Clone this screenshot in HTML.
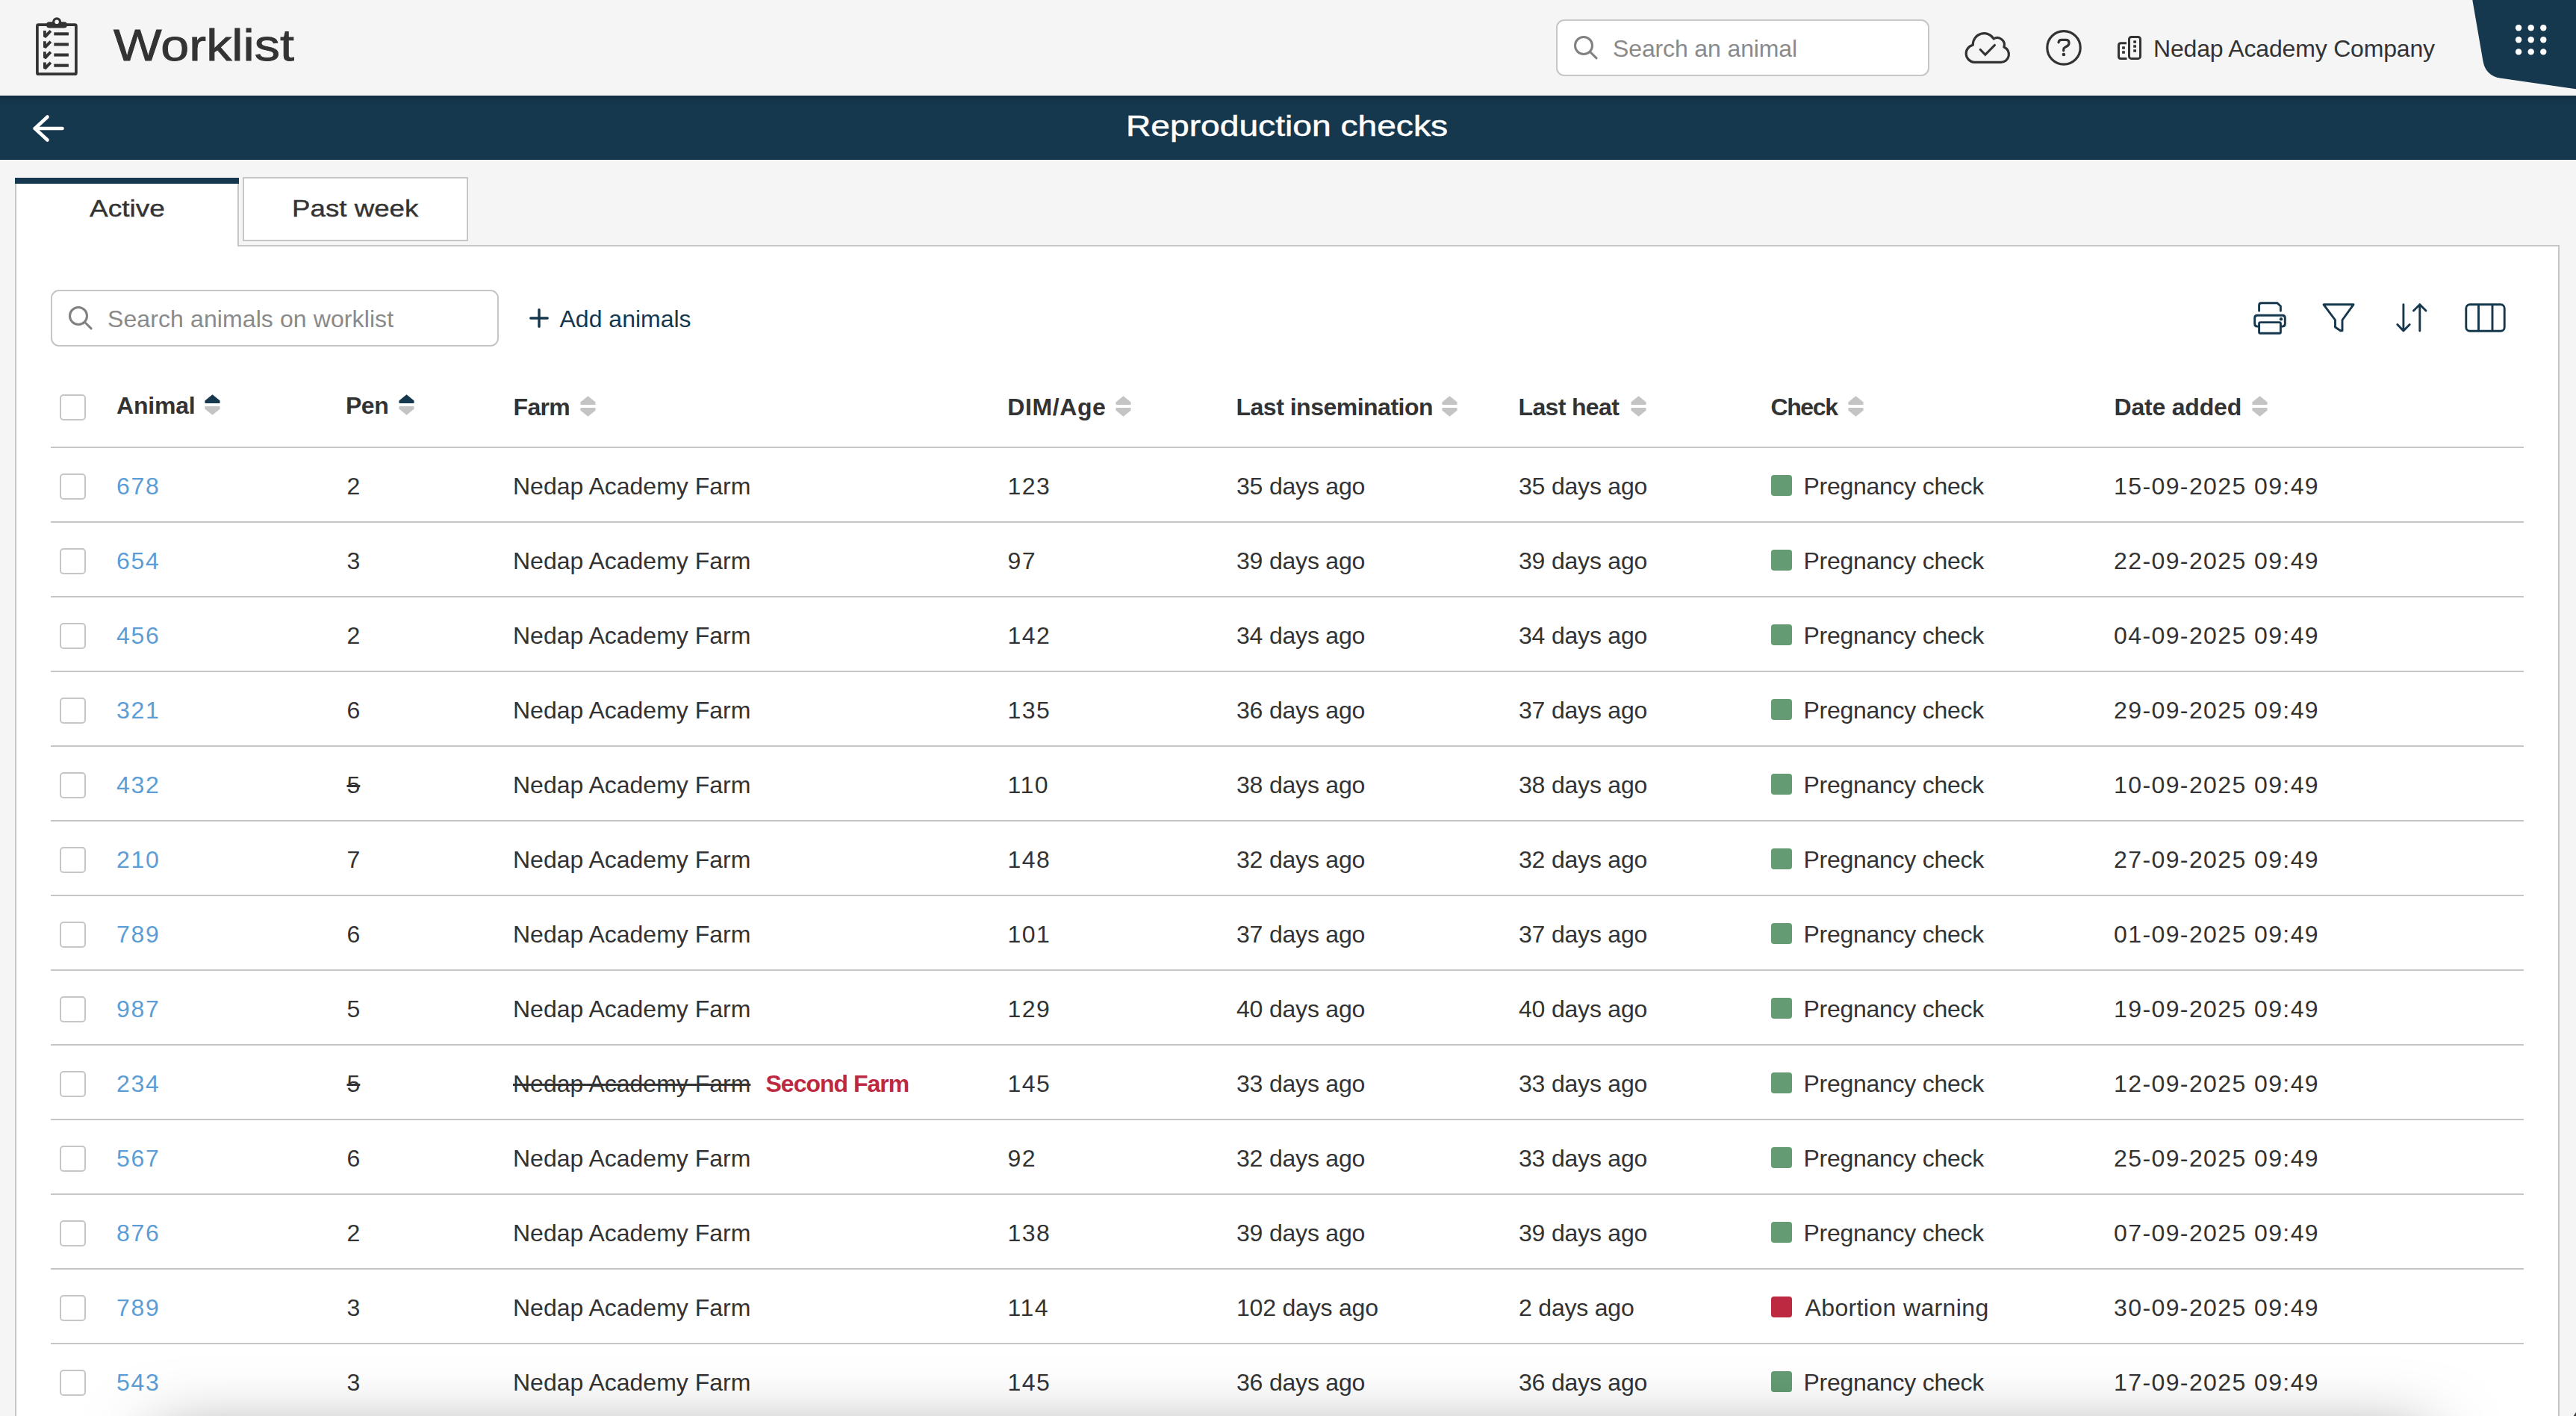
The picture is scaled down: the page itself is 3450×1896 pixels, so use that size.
<!DOCTYPE html><html lang="en"><head><meta charset="utf-8"><title>Worklist</title><style>
*{box-sizing:border-box;margin:0;padding:0}
html,body{width:3450px;height:1896px;overflow:hidden;background:#f5f5f5;font-family:"Liberation Sans", sans-serif;color:#333333;font-size:32px}
body{position:relative}
span,a{position:absolute;white-space:nowrap;line-height:1;transform-origin:0 50%;text-decoration:none}
div{position:absolute}
header,nav,main,section,.r{position:static;display:block}
#nav{left:0;top:128px;width:3450px;height:86px;background:linear-gradient(#112c40 0,#14344a 6px,#16384e 14px,#16384e 100%)}
#panel{left:20px;top:328px;width:3408px;height:1600px;background:#fff;border:2px solid #c6c6c6}
#tabA{left:20px;top:246px;width:300px;height:84px;background:#fff;border-left:2px solid #c6c6c6;border-right:2px solid #c6c6c6}
#tabAtop{left:20px;top:238px;width:300px;height:8px;background:#16384e}
#tabB{left:325px;top:237px;width:302px;height:86px;background:#fff;border:2px solid #c6c6c6}
.inp{background:#fff;border:2px solid #c6c6c6;border-radius:11px}
.cb{left:80px;width:36px;height:36px;border:2px solid #c6c6c6;border-radius:5px;background:#fff}
.hl{left:68px;width:3312px;height:2px;background:#c6c6c6}
.sq{left:2372px;width:28px;height:28px;border-radius:4px;background:#649b73}
svg{position:absolute;overflow:visible}
.s{text-decoration:line-through}
.b{font-weight:700}
</style></head><body>
<header>
<svg style="left:48px;top:24px" width="56" height="78" viewBox="0 0 56 78">
<rect x="1.9" y="9.2" width="52" height="66" rx="1.5" fill="none" stroke="#333333" stroke-width="3.7"/>
<rect x="14.1" y="5.3" width="27.8" height="8.1" rx="4" fill="#333333"/>
<circle cx="28.1" cy="5.3" r="4.4" fill="#f5f5f5" stroke="#333333" stroke-width="3.2"/>
<g fill="#333333"><path d="M10 17.1H13.8V20.8L18.6 16.1L21.2 18.8L13.4 27.0L10 25.3Z"/><path d="M10 31.2H13.8V34.9L18.6 30.2L21.2 32.9L13.4 41.1L10 39.4Z"/><path d="M10 45.3H13.8V49.0L18.6 44.3L21.2 47.0L13.4 55.2L10 53.5Z"/><path d="M10 59.4H13.8V63.1L18.6 58.4L21.2 61.1L13.4 69.3L10 67.6Z"/><rect x="24.3" y="19.3" width="19.6" height="4.1"/><rect x="24.3" y="33.4" width="19.6" height="4.1"/><rect x="24.3" y="47.5" width="19.6" height="4.1"/><rect x="24.3" y="61.6" width="19.6" height="4.1"/></g></svg>
<span style="left:151.5px;top:31.21px;font-size:60px;transform:scaleX(1.14);-webkit-text-stroke:0.9px #333333;">Worklist</span>
<div class="inp" style="left:2084px;top:26px;width:500px;height:76px"></div>
<svg style="left:2108px;top:48px" width="32" height="32" viewBox="0 0 32 32" fill="none" stroke="#808080" stroke-width="3" stroke-linecap="round"><circle cx="13" cy="13" r="11.5"/><path d="M21.3 21.3L30.1 29.9"/></svg>
<span style="left:2160px;top:48.66px;color:#8a8a8a;letter-spacing:-0.13px;">Search an animal</span>
<svg style="left:2632px;top:43px" width="60" height="42" viewBox="0 0 60 42" fill="none" stroke="#333333" stroke-width="3.2" stroke-linecap="round" stroke-linejoin="round">
<path d="M12.2 40.3 A11.7 11.7 0 0 1 10.3 17.2 A15.05 15.05 0 0 1 38.2 8.9 A9.4 9.4 0 0 1 51.9 19.9 A10.6 10.6 0 0 1 47.8 40.3 Z"/>
<path d="M20.3 23.5 L26.8 30.3 L39.4 17.5" stroke-linejoin="miter"/></svg>
<svg style="left:2740px;top:40px" width="48" height="48" viewBox="0 0 48 48" fill="none" stroke="#333333" stroke-width="3.2" stroke-linecap="round" stroke-linejoin="round"><circle cx="24" cy="23.9" r="22.2"/>
<path d="M17 16.8 Q17.4 13.4 21 13.4 H27 Q31 13.4 31 17.4 Q31 20.5 28 22 L25.6 23.3 Q23.7 24.3 23.7 26.3 V27.8"/><circle cx="23.9" cy="33" r="2.3" fill="#333333" stroke="none"/></svg>
<svg style="left:2836px;top:48px" width="32" height="32" viewBox="0 0 32 32" fill="none" stroke="#333333" stroke-width="3">
<rect x="15.5" y="1.4" width="15" height="29" rx="3"/><path d="M12 9.7 H4.5 Q1.5 9.7 1.5 12.7 V27.4 Q1.5 30.4 4.5 30.4 H12.5"/>
<g stroke="none" fill="#333333"><rect x="21.2" y="6.2" width="3.8" height="3.6" rx=".5"/><rect x="21.2" y="12.2" width="3.8" height="3.6" rx=".5"/><rect x="21.2" y="18.2" width="3.8" height="3.6" rx=".5"/><rect x="6.1" y="14.2" width="3.8" height="3.6" rx=".5"/><rect x="6.1" y="20.2" width="3.8" height="3.6" rx=".5"/></g></svg>
<span style="left:2884px;top:48.66px;letter-spacing:-0.18px;">Nedap Academy Company</span>
<svg style="left:3300px;top:0" width="150" height="125" viewBox="3300 0 150 125"><path d="M3311.3 0 L3325.5 82 Q3329 101 3348 104.6 L3450 119.3 V0 Z" fill="#16384e"/>
<g fill="#fff"><circle cx="3373.1" cy="37.2" r="4.2"/><circle cx="3389.7" cy="37.2" r="4.2"/><circle cx="3406.3" cy="37.2" r="4.2"/><circle cx="3373.1" cy="53.3" r="4.2"/><circle cx="3389.7" cy="53.3" r="4.2"/><circle cx="3406.3" cy="53.3" r="4.2"/><circle cx="3373.1" cy="69.4" r="4.2"/><circle cx="3389.7" cy="69.4" r="4.2"/><circle cx="3406.3" cy="69.4" r="4.2"/></g></svg>
</header>
<nav><div id="nav"></div>
<svg style="left:44px;top:154px" width="42" height="36" viewBox="0 0 42 36" fill="none" stroke="#fff" stroke-width="4.6" stroke-linecap="round" stroke-linejoin="round"><path d="M2.5 18 H39.5 M19.5 2.5 L2.8 18 L19.5 33.5"/></svg>
<span style="left:1508px;top:149.49px;font-size:39px;color:#fff;transform:scaleX(1.1836);-webkit-text-stroke:0.5px #fff;">Reproduction checks</span>
</nav>
<main><div id="panel"></div><section><div id="tabA"></div><div id="tabAtop"></div><div id="tabB"></div>
<span style="left:119.8px;top:262.91px;transform:scaleX(1.158);-webkit-text-stroke:0.4px #333333;">Active</span>
<span style="left:390.5px;top:262.91px;transform:scaleX(1.147);-webkit-text-stroke:0.4px #333333;">Past week</span>
</section>
<section>
<div class="inp" style="left:68px;top:388px;width:600px;height:76px"></div>
<svg style="left:92px;top:410px" width="32" height="32" viewBox="0 0 32 32" fill="none" stroke="#808080" stroke-width="3" stroke-linecap="round"><circle cx="13" cy="13" r="11.5"/><path d="M21.3 21.3L30.1 29.9"/></svg>
<span style="left:144px;top:411.16px;color:#8a8a8a;letter-spacing:0.1px;">Search animals on worklist</span>
<svg style="left:709px;top:413px" width="26" height="26" viewBox="0 0 26 26" fill="none" stroke="#16384e" stroke-width="3.4" stroke-linecap="round"><path d="M13 1.8V24.2M1.8 13H24.2"/></svg>
<span style="left:749.5px;top:411.16px;color:#16384e;">Add animals</span>
<svg style="left:3018px;top:404px" width="44" height="44" viewBox="0 0 44 44" fill="none" stroke="#16384e" stroke-width="2.9" stroke-linejoin="round" stroke-linecap="round">
<path d="M7.6 12.3 V4.7 Q7.6 1.7 10.6 1.7 H32 L36.4 6 V12.3"/>
<path d="M7.6 33.1 H5.2 Q1.7 33.1 1.7 29.6 V21.7 Q1.7 18.2 5.2 18.2 H38.8 Q42.3 18.2 42.3 21.7 V29.6 Q42.3 33.1 38.8 33.1 H36.4"/>
<rect x="7.6" y="27.6" width="28.8" height="14.7" rx="1.5"/>
<circle cx="37" cy="23.2" r="2.2" fill="#16384e" stroke="none"/></svg>
<svg style="left:3110px;top:406px" width="44" height="39" viewBox="0 0 44 39" fill="none" stroke="#16384e" stroke-width="2.9" stroke-linejoin="round" stroke-linecap="round">
<path d="M2 1.8 H42 L27 22.5 V36.8 H24.5 L17.5 32 V22.5 Z"/></svg>
<svg style="left:3209px;top:406px" width="42" height="39" viewBox="0 0 42 39" fill="none" stroke="#16384e" stroke-width="2.9" stroke-linejoin="round" stroke-linecap="round">
<path d="M9.9 1.8 V37 M1.8 28.6 L9.9 37 L18.2 28.6 M31.8 37 V1.8 M23.5 10 L31.8 1.8 L40 10"/></svg>
<svg style="left:3301px;top:406px" width="55" height="39" viewBox="0 0 55 39" fill="none" stroke="#16384e" stroke-width="2.9" stroke-linejoin="round">
<rect x="1.8" y="1.8" width="51.4" height="35.4" rx="5"/><path d="M18.5 1.8V37.2M37 1.8V37.2"/></svg>
</section>
<section><div class="r">
<div class="cb" style="top:528px;width:35px;height:35px"></div>
<span class="b" style="left:156px;top:526.71px;letter-spacing:-0.2px;">Animal</span>
<svg style="left:273.7px;top:528px" width="21" height="28" viewBox="0 0 21 28"><path d="M10.5 0.3 L20.3 8.2 Q20.6 8.5 20.6 9 V11 Q20.6 12 19.6 12 H1.4 Q0.4 12 0.4 11 V9 Q0.4 8.5 0.7 8.2 Z" fill="#16384e"/><path d="M10.5 27.7 L20.3 19.8 Q20.6 19.5 20.6 19 V17 Q20.6 16 19.6 16 H1.4 Q0.4 16 0.4 17 V19 Q0.4 19.5 0.7 19.8 Z" fill="#c4c4c4"/></svg>
<span class="b" style="left:463px;top:526.71px;letter-spacing:-0.5px;">Pen</span>
<svg style="left:533.55px;top:528px" width="21" height="28" viewBox="0 0 21 28"><path d="M10.5 0.3 L20.3 8.2 Q20.6 8.5 20.6 9 V11 Q20.6 12 19.6 12 H1.4 Q0.4 12 0.4 11 V9 Q0.4 8.5 0.7 8.2 Z" fill="#16384e"/><path d="M10.5 27.7 L20.3 19.8 Q20.6 19.5 20.6 19 V17 Q20.6 16 19.6 16 H1.4 Q0.4 16 0.4 17 V19 Q0.4 19.5 0.7 19.8 Z" fill="#c4c4c4"/></svg>
<span class="b" style="left:687.5px;top:528.51px;letter-spacing:-0.67px;">Farm</span>
<svg style="left:777.3px;top:530px" width="21" height="28" viewBox="0 0 21 28"><path d="M10.5 0.3 L20.3 8.2 Q20.6 8.5 20.6 9 V11 Q20.6 12 19.6 12 H1.4 Q0.4 12 0.4 11 V9 Q0.4 8.5 0.7 8.2 Z" fill="#c4c4c4"/><path d="M10.5 27.7 L20.3 19.8 Q20.6 19.5 20.6 19 V17 Q20.6 16 19.6 16 H1.4 Q0.4 16 0.4 17 V19 Q0.4 19.5 0.7 19.8 Z" fill="#c4c4c4"/></svg>
<span class="b" style="left:1349.25px;top:528.51px;letter-spacing:0.6px;">DIM/Age</span>
<svg style="left:1493.55px;top:530px" width="21" height="28" viewBox="0 0 21 28"><path d="M10.5 0.3 L20.3 8.2 Q20.6 8.5 20.6 9 V11 Q20.6 12 19.6 12 H1.4 Q0.4 12 0.4 11 V9 Q0.4 8.5 0.7 8.2 Z" fill="#c4c4c4"/><path d="M10.5 27.7 L20.3 19.8 Q20.6 19.5 20.6 19 V17 Q20.6 16 19.6 16 H1.4 Q0.4 16 0.4 17 V19 Q0.4 19.5 0.7 19.8 Z" fill="#c4c4c4"/></svg>
<span class="b" style="left:1655.5px;top:528.51px;letter-spacing:-0.5px;">Last insemination</span>
<svg style="left:1931.05px;top:530px" width="21" height="28" viewBox="0 0 21 28"><path d="M10.5 0.3 L20.3 8.2 Q20.6 8.5 20.6 9 V11 Q20.6 12 19.6 12 H1.4 Q0.4 12 0.4 11 V9 Q0.4 8.5 0.7 8.2 Z" fill="#c4c4c4"/><path d="M10.5 27.7 L20.3 19.8 Q20.6 19.5 20.6 19 V17 Q20.6 16 19.6 16 H1.4 Q0.4 16 0.4 17 V19 Q0.4 19.5 0.7 19.8 Z" fill="#c4c4c4"/></svg>
<span class="b" style="left:2033.5px;top:528.51px;letter-spacing:-0.65px;">Last heat</span>
<svg style="left:2183.55px;top:530px" width="21" height="28" viewBox="0 0 21 28"><path d="M10.5 0.3 L20.3 8.2 Q20.6 8.5 20.6 9 V11 Q20.6 12 19.6 12 H1.4 Q0.4 12 0.4 11 V9 Q0.4 8.5 0.7 8.2 Z" fill="#c4c4c4"/><path d="M10.5 27.7 L20.3 19.8 Q20.6 19.5 20.6 19 V17 Q20.6 16 19.6 16 H1.4 Q0.4 16 0.4 17 V19 Q0.4 19.5 0.7 19.8 Z" fill="#c4c4c4"/></svg>
<span class="b" style="left:2371.5px;top:528.51px;letter-spacing:-1.4px;">Check</span>
<svg style="left:2475.3px;top:530px" width="21" height="28" viewBox="0 0 21 28"><path d="M10.5 0.3 L20.3 8.2 Q20.6 8.5 20.6 9 V11 Q20.6 12 19.6 12 H1.4 Q0.4 12 0.4 11 V9 Q0.4 8.5 0.7 8.2 Z" fill="#c4c4c4"/><path d="M10.5 27.7 L20.3 19.8 Q20.6 19.5 20.6 19 V17 Q20.6 16 19.6 16 H1.4 Q0.4 16 0.4 17 V19 Q0.4 19.5 0.7 19.8 Z" fill="#c4c4c4"/></svg>
<span class="b" style="left:2831.5px;top:528.51px;letter-spacing:-0.2px;">Date added</span>
<svg style="left:3015.55px;top:530px" width="21" height="28" viewBox="0 0 21 28"><path d="M10.5 0.3 L20.3 8.2 Q20.6 8.5 20.6 9 V11 Q20.6 12 19.6 12 H1.4 Q0.4 12 0.4 11 V9 Q0.4 8.5 0.7 8.2 Z" fill="#c4c4c4"/><path d="M10.5 27.7 L20.3 19.8 Q20.6 19.5 20.6 19 V17 Q20.6 16 19.6 16 H1.4 Q0.4 16 0.4 17 V19 Q0.4 19.5 0.7 19.8 Z" fill="#c4c4c4"/></svg>
<div class="hl" style="top:598px"></div></div>
<div class="r">
<div class="cb" style="top:634px;width:35px;height:35px"></div>
<a style="left:156px;top:634.91px;color:#5c9dd5;letter-spacing:1.7px;">678</a>
<span style="left:464.5px;top:634.91px;">2</span>
<span style="left:687px;top:634.91px;">Nedap Academy Farm</span>
<span style="left:1349.5px;top:634.91px;letter-spacing:1.5px;">123</span>
<span style="left:1656px;top:634.91px;letter-spacing:-0.2px;">35 days ago</span>
<span style="left:2034px;top:634.91px;letter-spacing:-0.2px;">35 days ago</span>
<div class="sq" style="top:636px"></div>
<span style="left:2415.5px;top:634.91px;letter-spacing:-0.27px;">Pregnancy check</span>
<span style="left:2831px;top:634.91px;letter-spacing:1.4px;">15-09-2025 09:49</span>
<div class="hl" style="top:698px"></div>
</div>
<div class="r">
<div class="cb" style="top:734px;width:35px;height:35px"></div>
<a style="left:156px;top:734.91px;color:#5c9dd5;letter-spacing:1.7px;">654</a>
<span style="left:464.5px;top:734.91px;">3</span>
<span style="left:687px;top:734.91px;">Nedap Academy Farm</span>
<span style="left:1349.5px;top:734.91px;letter-spacing:1.5px;">97</span>
<span style="left:1656px;top:734.91px;letter-spacing:-0.2px;">39 days ago</span>
<span style="left:2034px;top:734.91px;letter-spacing:-0.2px;">39 days ago</span>
<div class="sq" style="top:736px"></div>
<span style="left:2415.5px;top:734.91px;letter-spacing:-0.27px;">Pregnancy check</span>
<span style="left:2831px;top:734.91px;letter-spacing:1.4px;">22-09-2025 09:49</span>
<div class="hl" style="top:798px"></div>
</div>
<div class="r">
<div class="cb" style="top:834px;width:35px;height:35px"></div>
<a style="left:156px;top:834.91px;color:#5c9dd5;letter-spacing:1.7px;">456</a>
<span style="left:464.5px;top:834.91px;">2</span>
<span style="left:687px;top:834.91px;">Nedap Academy Farm</span>
<span style="left:1349.5px;top:834.91px;letter-spacing:1.5px;">142</span>
<span style="left:1656px;top:834.91px;letter-spacing:-0.2px;">34 days ago</span>
<span style="left:2034px;top:834.91px;letter-spacing:-0.2px;">34 days ago</span>
<div class="sq" style="top:836px"></div>
<span style="left:2415.5px;top:834.91px;letter-spacing:-0.27px;">Pregnancy check</span>
<span style="left:2831px;top:834.91px;letter-spacing:1.4px;">04-09-2025 09:49</span>
<div class="hl" style="top:898px"></div>
</div>
<div class="r">
<div class="cb" style="top:934px;width:35px;height:35px"></div>
<a style="left:156px;top:934.91px;color:#5c9dd5;letter-spacing:1.7px;">321</a>
<span style="left:464.5px;top:934.91px;">6</span>
<span style="left:687px;top:934.91px;">Nedap Academy Farm</span>
<span style="left:1349.5px;top:934.91px;letter-spacing:1.5px;">135</span>
<span style="left:1656px;top:934.91px;letter-spacing:-0.2px;">36 days ago</span>
<span style="left:2034px;top:934.91px;letter-spacing:-0.2px;">37 days ago</span>
<div class="sq" style="top:936px"></div>
<span style="left:2415.5px;top:934.91px;letter-spacing:-0.27px;">Pregnancy check</span>
<span style="left:2831px;top:934.91px;letter-spacing:1.4px;">29-09-2025 09:49</span>
<div class="hl" style="top:998px"></div>
</div>
<div class="r">
<div class="cb" style="top:1034px;width:35px;height:35px"></div>
<a style="left:156px;top:1034.91px;color:#5c9dd5;letter-spacing:1.7px;">432</a>
<span class="s" style="left:464.5px;top:1034.91px;">5</span>
<span style="left:687px;top:1034.91px;">Nedap Academy Farm</span>
<span style="left:1349.5px;top:1034.91px;letter-spacing:1.5px;">110</span>
<span style="left:1656px;top:1034.91px;letter-spacing:-0.2px;">38 days ago</span>
<span style="left:2034px;top:1034.91px;letter-spacing:-0.2px;">38 days ago</span>
<div class="sq" style="top:1036px"></div>
<span style="left:2415.5px;top:1034.91px;letter-spacing:-0.27px;">Pregnancy check</span>
<span style="left:2831px;top:1034.91px;letter-spacing:1.4px;">10-09-2025 09:49</span>
<div class="hl" style="top:1098px"></div>
</div>
<div class="r">
<div class="cb" style="top:1134px;width:35px;height:35px"></div>
<a style="left:156px;top:1134.91px;color:#5c9dd5;letter-spacing:1.7px;">210</a>
<span style="left:464.5px;top:1134.91px;">7</span>
<span style="left:687px;top:1134.91px;">Nedap Academy Farm</span>
<span style="left:1349.5px;top:1134.91px;letter-spacing:1.5px;">148</span>
<span style="left:1656px;top:1134.91px;letter-spacing:-0.2px;">32 days ago</span>
<span style="left:2034px;top:1134.91px;letter-spacing:-0.2px;">32 days ago</span>
<div class="sq" style="top:1136px"></div>
<span style="left:2415.5px;top:1134.91px;letter-spacing:-0.27px;">Pregnancy check</span>
<span style="left:2831px;top:1134.91px;letter-spacing:1.4px;">27-09-2025 09:49</span>
<div class="hl" style="top:1198px"></div>
</div>
<div class="r">
<div class="cb" style="top:1234px;width:35px;height:35px"></div>
<a style="left:156px;top:1234.91px;color:#5c9dd5;letter-spacing:1.7px;">789</a>
<span style="left:464.5px;top:1234.91px;">6</span>
<span style="left:687px;top:1234.91px;">Nedap Academy Farm</span>
<span style="left:1349.5px;top:1234.91px;letter-spacing:1.5px;">101</span>
<span style="left:1656px;top:1234.91px;letter-spacing:-0.2px;">37 days ago</span>
<span style="left:2034px;top:1234.91px;letter-spacing:-0.2px;">37 days ago</span>
<div class="sq" style="top:1236px"></div>
<span style="left:2415.5px;top:1234.91px;letter-spacing:-0.27px;">Pregnancy check</span>
<span style="left:2831px;top:1234.91px;letter-spacing:1.4px;">01-09-2025 09:49</span>
<div class="hl" style="top:1298px"></div>
</div>
<div class="r">
<div class="cb" style="top:1334px;width:35px;height:35px"></div>
<a style="left:156px;top:1334.91px;color:#5c9dd5;letter-spacing:1.7px;">987</a>
<span style="left:464.5px;top:1334.91px;">5</span>
<span style="left:687px;top:1334.91px;">Nedap Academy Farm</span>
<span style="left:1349.5px;top:1334.91px;letter-spacing:1.5px;">129</span>
<span style="left:1656px;top:1334.91px;letter-spacing:-0.2px;">40 days ago</span>
<span style="left:2034px;top:1334.91px;letter-spacing:-0.2px;">40 days ago</span>
<div class="sq" style="top:1336px"></div>
<span style="left:2415.5px;top:1334.91px;letter-spacing:-0.27px;">Pregnancy check</span>
<span style="left:2831px;top:1334.91px;letter-spacing:1.4px;">19-09-2025 09:49</span>
<div class="hl" style="top:1398px"></div>
</div>
<div class="r">
<div class="cb" style="top:1434px;width:35px;height:35px"></div>
<a style="left:156px;top:1434.91px;color:#5c9dd5;letter-spacing:1.7px;">234</a>
<span class="s" style="left:464.5px;top:1434.91px;">5</span>
<span class="s" style="left:687px;top:1434.91px;">Nedap Academy Farm</span>
<span class="b" style="left:1025.5px;top:1434.91px;color:#be2942;letter-spacing:-1px;">Second Farm</span>
<span style="left:1349.5px;top:1434.91px;letter-spacing:1.5px;">145</span>
<span style="left:1656px;top:1434.91px;letter-spacing:-0.2px;">33 days ago</span>
<span style="left:2034px;top:1434.91px;letter-spacing:-0.2px;">33 days ago</span>
<div class="sq" style="top:1436px"></div>
<span style="left:2415.5px;top:1434.91px;letter-spacing:-0.27px;">Pregnancy check</span>
<span style="left:2831px;top:1434.91px;letter-spacing:1.4px;">12-09-2025 09:49</span>
<div class="hl" style="top:1498px"></div>
</div>
<div class="r">
<div class="cb" style="top:1534px;width:35px;height:35px"></div>
<a style="left:156px;top:1534.91px;color:#5c9dd5;letter-spacing:1.7px;">567</a>
<span style="left:464.5px;top:1534.91px;">6</span>
<span style="left:687px;top:1534.91px;">Nedap Academy Farm</span>
<span style="left:1349.5px;top:1534.91px;letter-spacing:1.5px;">92</span>
<span style="left:1656px;top:1534.91px;letter-spacing:-0.2px;">32 days ago</span>
<span style="left:2034px;top:1534.91px;letter-spacing:-0.2px;">33 days ago</span>
<div class="sq" style="top:1536px"></div>
<span style="left:2415.5px;top:1534.91px;letter-spacing:-0.27px;">Pregnancy check</span>
<span style="left:2831px;top:1534.91px;letter-spacing:1.4px;">25-09-2025 09:49</span>
<div class="hl" style="top:1598px"></div>
</div>
<div class="r">
<div class="cb" style="top:1634px;width:35px;height:35px"></div>
<a style="left:156px;top:1634.91px;color:#5c9dd5;letter-spacing:1.7px;">876</a>
<span style="left:464.5px;top:1634.91px;">2</span>
<span style="left:687px;top:1634.91px;">Nedap Academy Farm</span>
<span style="left:1349.5px;top:1634.91px;letter-spacing:1.5px;">138</span>
<span style="left:1656px;top:1634.91px;letter-spacing:-0.2px;">39 days ago</span>
<span style="left:2034px;top:1634.91px;letter-spacing:-0.2px;">39 days ago</span>
<div class="sq" style="top:1636px"></div>
<span style="left:2415.5px;top:1634.91px;letter-spacing:-0.27px;">Pregnancy check</span>
<span style="left:2831px;top:1634.91px;letter-spacing:1.4px;">07-09-2025 09:49</span>
<div class="hl" style="top:1698px"></div>
</div>
<div class="r">
<div class="cb" style="top:1734px;width:35px;height:35px"></div>
<a style="left:156px;top:1734.91px;color:#5c9dd5;letter-spacing:1.7px;">789</a>
<span style="left:464.5px;top:1734.91px;">3</span>
<span style="left:687px;top:1734.91px;">Nedap Academy Farm</span>
<span style="left:1349.5px;top:1734.91px;letter-spacing:1.5px;">114</span>
<span style="left:1656px;top:1734.91px;letter-spacing:-0.2px;">102 days ago</span>
<span style="left:2034px;top:1734.91px;letter-spacing:-0.2px;">2 days ago</span>
<div class="sq" style="top:1736px;background:#be2942"></div>
<span style="left:2417.5px;top:1734.91px;letter-spacing:0.37px;">Abortion warning</span>
<span style="left:2831px;top:1734.91px;letter-spacing:1.4px;">30-09-2025 09:49</span>
<div class="hl" style="top:1798px"></div>
</div>
<div class="r">
<div class="cb" style="top:1834px;width:35px;height:35px"></div>
<a style="left:156px;top:1834.91px;color:#5c9dd5;letter-spacing:1.7px;">543</a>
<span style="left:464.5px;top:1834.91px;">3</span>
<span style="left:687px;top:1834.91px;">Nedap Academy Farm</span>
<span style="left:1349.5px;top:1834.91px;letter-spacing:1.5px;">145</span>
<span style="left:1656px;top:1834.91px;letter-spacing:-0.2px;">36 days ago</span>
<span style="left:2034px;top:1834.91px;letter-spacing:-0.2px;">36 days ago</span>
<div class="sq" style="top:1836px"></div>
<span style="left:2415.5px;top:1834.91px;letter-spacing:-0.27px;">Pregnancy check</span>
<span style="left:2831px;top:1834.91px;letter-spacing:1.4px;">17-09-2025 09:49</span>
</div>
</section>
<div style="left:210px;top:1929px;width:3040px;height:100px;box-shadow:0 0 94px rgba(0,0,0,.5)"></div>
<svg style="left:3436px;top:1884px" width="14" height="12" viewBox="0 0 14 12"><path d="M14 7 L10.8 12 H14Z" fill="#333"/></svg>
</main></body></html>
